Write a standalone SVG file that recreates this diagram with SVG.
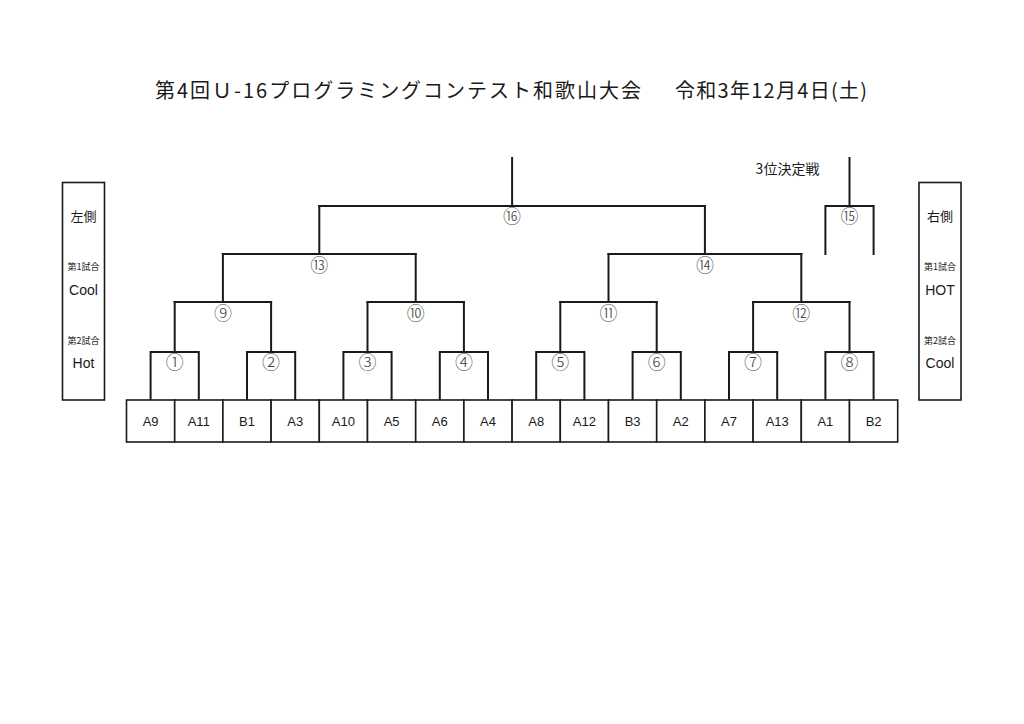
<svg xmlns="http://www.w3.org/2000/svg" width="1024" height="724" viewBox="0 0 1024 724">
<style>
.bg{fill:#ffffff}
.br{fill:none;stroke:#1a1a1a;stroke-width:2;stroke-linecap:square}
.box{fill:#ffffff;stroke:#1a1a1a;stroke-width:1.6}
.t{font-family:"Liberation Sans","Noto Sans CJK JP",sans-serif;fill:#1a1a1a;text-anchor:middle}
.j{font-family:"Noto Sans CJK JP","Liberation Sans",sans-serif;fill:#1a1a1a;text-anchor:middle}
.team{font-size:13px}
.num{font-size:18px;font-weight:300;fill:#444444}
.small{font-size:9px}
.mid{font-size:13px}
.title{font-family:"Noto Sans CJK JP",sans-serif;font-size:20px;fill:#1a1a1a}
</style>
<rect class="bg" x="0" y="0" width="1024" height="724"/>
<g id="title">
<text class="title" x="155" y="98" textLength="486">第4回Ｕ-16プログラミングコンテスト和歌山大会</text>
<text class="title" x="675" y="98" textLength="192">令和3年12月4日(土)</text>
</g>
<g id="left-panel">
<rect class="box" x="62.5" y="182.5" width="42" height="217.5"/>
<text class="j mid" x="83.5" y="221">左側</text>
<text class="j small" x="83.5" y="270">第1試合</text>
<text class="t" x="83.5" y="295" font-size="14">Cool</text>
<text class="j small" x="83.5" y="344">第2試合</text>
<text class="t" x="83.5" y="368" font-size="14">Hot</text>
</g>
<g id="right-panel">
<rect class="box" x="919" y="182.5" width="42" height="217.5"/>
<text class="j mid" x="940" y="221">右側</text>
<text class="j small" x="940" y="270">第1試合</text>
<text class="t" x="940" y="295" font-size="14">HOT</text>
<text class="j small" x="940" y="344">第2試合</text>
<text class="t" x="940" y="368" font-size="14">Cool</text>
</g>
<g id="connectors">
<path class="br" d="M150.6,400 V352 H198.8 V400 M174.7,352 V302"/>
<path class="br" d="M247,400 V352 H295.2 V400 M271.1,352 V302"/>
<path class="br" d="M343.4,400 V352 H391.6 V400 M367.5,352 V302"/>
<path class="br" d="M439.8,400 V352 H488 V400 M463.9,352 V302"/>
<path class="br" d="M536.2,400 V352 H584.4 V400 M560.3,352 V302"/>
<path class="br" d="M632.6,400 V352 H680.8 V400 M656.7,352 V302"/>
<path class="br" d="M729,400 V352 H777.2 V400 M753.1,352 V302"/>
<path class="br" d="M825.4,400 V352 H873.6 V400 M849.5,352 V302"/>
<path class="br" d="M174.7,302 H271.1 M222.9,302 V254"/>
<path class="br" d="M367.5,302 H463.9 M415.7,302 V254"/>
<path class="br" d="M560.3,302 H656.7 M608.5,302 V254"/>
<path class="br" d="M753.1,302 H849.5 M801.3,302 V254"/>
<path class="br" d="M222.9,254 H415.7 M319.3,254 V206"/>
<path class="br" d="M608.5,254 H801.3 M704.9,254 V206"/>
<path class="br" d="M319.3,206 H704.9 M512.1,206 V158"/>
<path class="br" d="M825.4,254 V206 H873.6 V254 M849.5,206 V158"/>
</g>
<g id="match-labels">
<text class="j num" x="174.7" y="369">①</text>
<text class="j num" x="271.1" y="369">②</text>
<text class="j num" x="367.5" y="369">③</text>
<text class="j num" x="463.9" y="369">④</text>
<text class="j num" x="560.3" y="369">⑤</text>
<text class="j num" x="656.7" y="369">⑥</text>
<text class="j num" x="753.1" y="369">⑦</text>
<text class="j num" x="849.5" y="369">⑧</text>
<text class="j num" x="222.9" y="320">⑨</text>
<text class="j num" x="415.7" y="320">⑩</text>
<text class="j num" x="608.5" y="320">⑪</text>
<text class="j num" x="801.3" y="320">⑫</text>
<text class="j num" x="319.3" y="271.5">⑬</text>
<text class="j num" x="704.9" y="271.5">⑭</text>
<text class="j num" x="512.1" y="223">⑯</text>
<text class="j num" x="849.5" y="223">⑮</text>
<text class="j" x="787.5" y="174" font-size="14">3位決定戦</text>
</g>
<g id="teams">
<g id="team-A9"><rect class="box" x="126.5" y="400" width="48.2" height="42"/><text class="t team" x="150.6" y="426">A9</text></g>
<g id="team-A11"><rect class="box" x="174.7" y="400" width="48.2" height="42"/><text class="t team" x="198.8" y="426">A11</text></g>
<g id="team-B1"><rect class="box" x="222.9" y="400" width="48.2" height="42"/><text class="t team" x="247" y="426">B1</text></g>
<g id="team-A3"><rect class="box" x="271.1" y="400" width="48.2" height="42"/><text class="t team" x="295.2" y="426">A3</text></g>
<g id="team-A10"><rect class="box" x="319.3" y="400" width="48.2" height="42"/><text class="t team" x="343.4" y="426">A10</text></g>
<g id="team-A5"><rect class="box" x="367.5" y="400" width="48.2" height="42"/><text class="t team" x="391.6" y="426">A5</text></g>
<g id="team-A6"><rect class="box" x="415.7" y="400" width="48.2" height="42"/><text class="t team" x="439.8" y="426">A6</text></g>
<g id="team-A4"><rect class="box" x="463.9" y="400" width="48.2" height="42"/><text class="t team" x="488" y="426">A4</text></g>
<g id="team-A8"><rect class="box" x="512.1" y="400" width="48.2" height="42"/><text class="t team" x="536.2" y="426">A8</text></g>
<g id="team-A12"><rect class="box" x="560.3" y="400" width="48.2" height="42"/><text class="t team" x="584.4" y="426">A12</text></g>
<g id="team-B3"><rect class="box" x="608.5" y="400" width="48.2" height="42"/><text class="t team" x="632.6" y="426">B3</text></g>
<g id="team-A2"><rect class="box" x="656.7" y="400" width="48.2" height="42"/><text class="t team" x="680.8" y="426">A2</text></g>
<g id="team-A7"><rect class="box" x="704.9" y="400" width="48.2" height="42"/><text class="t team" x="729" y="426">A7</text></g>
<g id="team-A13"><rect class="box" x="753.1" y="400" width="48.2" height="42"/><text class="t team" x="777.2" y="426">A13</text></g>
<g id="team-A1"><rect class="box" x="801.3" y="400" width="48.2" height="42"/><text class="t team" x="825.4" y="426">A1</text></g>
<g id="team-B2"><rect class="box" x="849.5" y="400" width="48.2" height="42"/><text class="t team" x="873.6" y="426">B2</text></g>
</g>
</svg>
